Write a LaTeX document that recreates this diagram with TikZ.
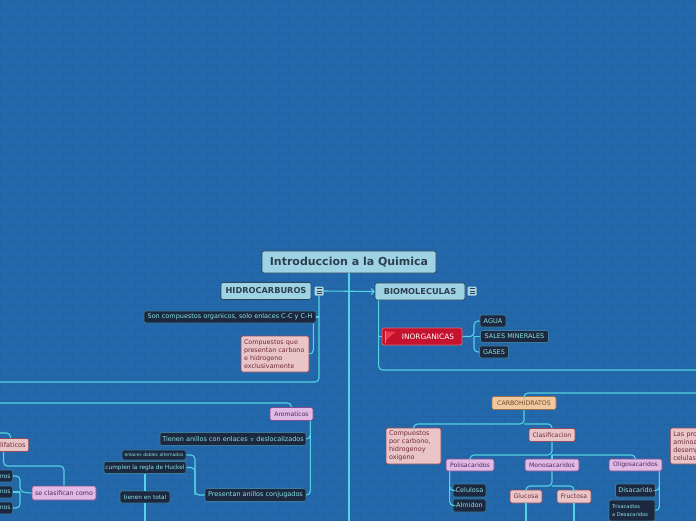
\documentclass[tikz,border=0pt]{standalone}
\usepackage{fontspec}
\setmainfont{DejaVu Sans}
\usetikzlibrary{arrows.meta,positioning,calc}
\definecolor{bgblue}{HTML}{2368AA}
\definecolor{brick}{HTML}{2163A3}
\definecolor{linkcyan}{HTML}{55D3E3}
\definecolor{titlefill}{HTML}{9ED3E3}
\definecolor{titleedge}{HTML}{2C4456}
\definecolor{titletext}{HTML}{2E3F50}
\definecolor{foldfill}{HTML}{A9D4E2}
\definecolor{darkfill}{HTML}{1C2840}
\definecolor{darkedge}{HTML}{3C7C96}
\definecolor{darktext}{HTML}{8CE3E3}
\definecolor{pinkfill}{HTML}{EAC5C8}
\definecolor{pinkedge}{HTML}{8C4A5C}
\definecolor{pinktext}{HTML}{6E2A3A}
\definecolor{lilacfill}{HTML}{E0B9E4}
\definecolor{lilacedge}{HTML}{7E4E90}
\definecolor{lilactext}{HTML}{4C2A5E}
\definecolor{tanfill}{HTML}{F0C79E}
\definecolor{tanedge}{HTML}{9A7250}
\definecolor{tantext}{HTML}{6E4C30}
\definecolor{redfill}{HTML}{C4122F}
\definecolor{rededge}{HTML}{E46474}
\definecolor{flagred}{HTML}{EE3A48}
\tikzset{
  topic/.style={rounded corners=2pt, line width=0.7pt, inner sep=0pt, align=center},
  titlebox/.style={topic, draw=titleedge, fill=titlefill, text=titletext,
    font=\fontsize{11}{13}\selectfont\bfseries, minimum height=22pt},
  mainbox/.style={topic, draw=titleedge, fill=titlefill, text=titletext,
    font=\fontsize{8.2}{9}\selectfont\bfseries, minimum height=17pt},
  darkbox/.style={topic, draw=darkedge, fill=darkfill, text=darktext,
    font=\fontsize{6.5}{7}\selectfont, minimum height=12pt},
  pinkbox/.style={topic, draw=pinkedge, fill=pinkfill, text=pinktext,
    font=\fontsize{6.2}{7}\selectfont, minimum height=13pt},
  lilacbox/.style={topic, draw=lilacedge, fill=lilacfill, text=lilactext,
    font=\fontsize{6.1}{7}\selectfont, minimum height=12pt},
  tanbox/.style={topic, draw=tanedge, fill=tanfill, text=tantext,
    font=\fontsize{6.2}{7}\selectfont, minimum height=13pt},
  redbox/.style={topic, draw=rededge, fill=redfill, text=white,
    font=\fontsize{7.4}{8}\selectfont, minimum height=17pt},
  notebox/.style={pinkbox, align=left, inner xsep=3pt, inner ysep=2pt,
    font=\fontsize{6.4}{8}\selectfont},
  fold/.style={fill=foldfill, rounded corners=1pt, minimum size=9pt, inner sep=0pt,
    path picture={\foreach \k in {-2.2,0,2.2}{\draw[titletext, line width=0.7pt]
      ([xshift=-2.5pt,yshift=\k pt]path picture bounding box.center) -- ++(5pt,0pt);}}},
  link/.style={draw=linkcyan, line width=1.1pt, rounded corners=4pt},
  arr/.style={link, -{Straight Barb[length=2.5pt,width=6pt]}}
}
\begin{document}
\begin{tikzpicture}[x=1pt,y=-1pt]
  \useasboundingbox (0,0) rectangle (696,520);
  \fill[bgblue] (0,0) rectangle (696,520);
  \clip (0,0) rectangle (696,520);
  % brick wall
  \foreach \r in {0,...,65}{
    \pgfmathsetmacro\yy{\r*8}
    \pgfmathsetmacro\off{mod(\r,2)*9}
    \draw[brick, line width=0.4pt] (0,\yy) -- (696,\yy);
    \foreach \c in {0,...,39}
      \draw[brick, line width=0.4pt] ({\c*18+\off},\yy) -- ++(0,8);
  }

  \node[titlebox, minimum width=174pt] (title) at (349,262) {Introduccion a la Quimica};
  \node[mainbox, minimum width=90pt] (hidro) at (266,291) {HIDROCARBUROS};
  \node[fold] (hidrofold) at (319,291) {};
  \node[mainbox, minimum width=90pt] (bio) at (420,291.5) {BIOMOLECULAS};
  \node[fold] (biofold) at (472,291) {};

  % hidrocarburos
  \node[darkbox, minimum width=172pt] (organicos) at (230,317) {Son compuestos organicos, solo enlaces C-C y C-H};
  \node[notebox, text width=62pt, minimum height=36pt] (soloch) at (275,354) {Compuestos que\\presentan carbono\\e hidrogeno\\exclusivamente};
  \node[lilacbox, minimum width=43pt, minimum height=13pt] (aromaticos) at (291.5,414) {Aromaticos};
  \node[darkbox, minimum width=146pt, minimum height=13pt] (deslocal) at (233,439) {Tienen anillos con enlaces $\pi$ deslocalizados};
  \node[darkbox, minimum width=101pt, minimum height=13pt] (conjugados) at (255.5,495) {Presentan anillos conjugados};
  \node[darkbox, minimum width=64pt, minimum height=10pt, font=\fontsize{4.5}{5}\selectfont] (dobles) at (154,455) {enlaces dobles alternados};
  \node[darkbox, minimum width=82pt, font=\fontsize{5.8}{6}\selectfont] (huckel) at (145,467.5) {cumplen la regla de Huckel};
  \node[darkbox, minimum width=50pt, font=\fontsize{5.8}{6}\selectfont] (total) at (145,497) {tienen en total};
  \node[pinkbox, anchor=east, inner xsep=3pt, font=\fontsize{6.6}{7}\selectfont] (alifaticos) at (29,445) {Alifaticos};
  \node[lilacbox, minimum width=64pt, minimum height=14pt, font=\fontsize{6.3}{7}\selectfont] (clasifican) at (64,493) {se clasifican como};
  \node[darkbox, anchor=east, inner xsep=2pt, font=\fontsize{6.1}{7}\selectfont] (alcanos) at (13,476) {Alcanos};
  \node[darkbox, anchor=east, inner xsep=2pt, font=\fontsize{6.1}{7}\selectfont] (alquenos) at (13,492) {Alquenos};
  \node[darkbox, anchor=east, inner xsep=2pt, font=\fontsize{6.1}{7}\selectfont] (alquinos) at (13,508) {Alquinos};

  % biomoleculas
  \node[redbox, minimum width=80pt] (inorganicas) at (422,336.5) {\hspace*{12pt}INORGANICAS};
  \node[darkbox, minimum width=26pt] (agua) at (493,321) {AGUA};
  \node[darkbox, minimum width=68pt] (sales) at (514.5,336.5) {SALES MINERALES};
  \node[darkbox, minimum width=29pt] (gases) at (494,352) {GASES};
  \node[tanbox, minimum width=64pt] (carbohidratos) at (524,403) {CARBOHIDRATOS};
  \node[notebox, text width=49pt, minimum height=36pt, font=\fontsize{6.5}{8}\selectfont] (cho) at (413.5,446) {Compuestos\\por carbono,\\hidrogenoy\\oxigeno};
  \node[pinkbox, minimum width=46pt] (clasificacion) at (552,435) {Clasificacion};
  \node[lilacbox, minimum width=48pt] (polisacaridos) at (470,465) {Polisacaridos};
  \node[lilacbox, minimum width=54pt] (monosacaridos) at (552,465) {Monosacaridos};
  \node[lilacbox, minimum width=53pt] (oligosacaridos) at (635.5,465) {Oligosacaridos};
  \node[darkbox, minimum width=33pt, minimum height=13pt] (celulosa) at (469.5,490.5) {Celulosa};
  \node[darkbox, minimum width=33pt, minimum height=13pt] (almidon) at (469.5,505.5) {Almidon};
  \node[pinkbox, minimum width=32pt] (glucosa) at (526,496.5) {Glucosa};
  \node[pinkbox, minimum width=34pt] (fructosa) at (574,496.5) {Fructosa};
  \node[darkbox, minimum width=40pt, minimum height=13pt] (disacarido) at (635.5,490.5) {Disacarido};
  \node[darkbox, align=left, text width=40pt, inner xsep=3pt, minimum height=21pt, font=\fontsize{5.1}{7.5}\selectfont] (trisacaridos) at (632,510.5) {Trisacadios\\a Desacaridos};
  \node[notebox, anchor=west, text width=84pt, minimum height=36pt, font=\fontsize{6.5}{8}\selectfont] (proteinas) at (670,446) {Las proteinas son\\aminoacidos que\\desempeñan en las\\celulas};

  % flag on inorganicas
  \begin{scope}[shift={(inorganicas.west)}]
    \fill[flagred] (3.5,-5) -- (14,-5) -- (4.5,3.5) -- cycle;
    \draw[flagred!60!white, line width=0.6pt] (3.5,-6) -- (3.5,6);
  \end{scope}

  % free ends and forks
  \coordinate (downmain) at (349,522);
  \coordinate (hidroout) at (-2,382);
  \coordinate (aromin) at (-2,403);
  \coordinate (alifin) at (-2,433);
  \coordinate (alifbend) at (3.5,466);
  \coordinate (tipofork) at (20,492);
  \coordinate (conjfork) at (195,495);
  \coordinate (bioout) at (698,370);
  \coordinate (carboin) at (698,393);
  \coordinate (biotrunk) at ([xshift=4pt]bio.south west);
  \coordinate (inorgfork) at (474,336.5);
  \coordinate (carbofork) at (524,424);
  \coordinate (clasfork) at (552,455);
  \coordinate (monofork) at (552,486);

  \draw[link] (title.south) -- (downmain);
  \draw[arr] (hidrofold.east) -- (bio.west);
  \draw[link] (hidrofold.south) |- (hidroout);
  \draw[link] (organicos.east) -- (organicos.east -| hidrofold.south);
  \draw[link] ([xshift=-3pt]organicos.south east) |- (soloch.east);
  \draw[link] (aromin) -| (aromaticos.north);
  \draw[link] ([xshift=-3pt]aromaticos.south east) |- (deslocal.east);
  \draw[link] ([xshift=-3pt]aromaticos.south east) |- (conjugados.east);
  \draw[link] (conjugados.west) -- (conjfork) |- (dobles.east);
  \draw[link] (conjfork) |- (huckel.east);
  \draw[link] (huckel.south) -- (total.north);
  \draw[link] (total.south) -- (total.south |- downmain);
  \draw[link] (alifin) -| (alifaticos.north);
  \draw[link] (alifaticos.south -| alifbend) -- (alifbend) -| (clasifican.north);
  \draw[link] (clasifican.west) -- (tipofork) |- (alcanos.east);
  \draw[link] (tipofork) |- (alquinos.east);
  \draw[link] (tipofork) -- (alquenos.east);

  \draw[link] (biotrunk) |- (bioout);
  \draw[link] (biotrunk |- inorganicas.west) -- (inorganicas.west);
  \draw[link] (inorganicas.east) -- (inorgfork) |- (agua.west);
  \draw[link] (inorgfork) |- (gases.west);
  \draw[link] (inorgfork) -- (sales.west);
  \draw[link] (carboin) -| (carbohidratos.north);
  \draw[link] (carbohidratos.south) -- (carbofork) -| (cho.north);
  \draw[link] (carbofork) -| (clasificacion.north);
  \draw[link] (clasificacion.south) -- (clasfork) -| (polisacaridos.north);
  \draw[link] (clasfork) -| (oligosacaridos.north);
  \draw[link] (clasfork) -- (monosacaridos.north);
  \draw[link] ([xshift=4pt]polisacaridos.south west) |- (celulosa.west);
  \draw[link] ([xshift=4pt]polisacaridos.south west) |- (almidon.west);
  \draw[link] (monosacaridos.south) -- (monofork) -| (glucosa.north);
  \draw[link] (monofork) -| (fructosa.north);
  \draw[link] (glucosa.south) -- (glucosa.south |- downmain);
  \draw[link] (fructosa.south) -- (fructosa.south |- downmain);
  \draw[link] ([xshift=-3pt]oligosacaridos.south east) |- (disacarido.east);
  \draw[link] ([xshift=-3pt]oligosacaridos.south east) |- (trisacaridos.east);
\end{tikzpicture}
\end{document}
